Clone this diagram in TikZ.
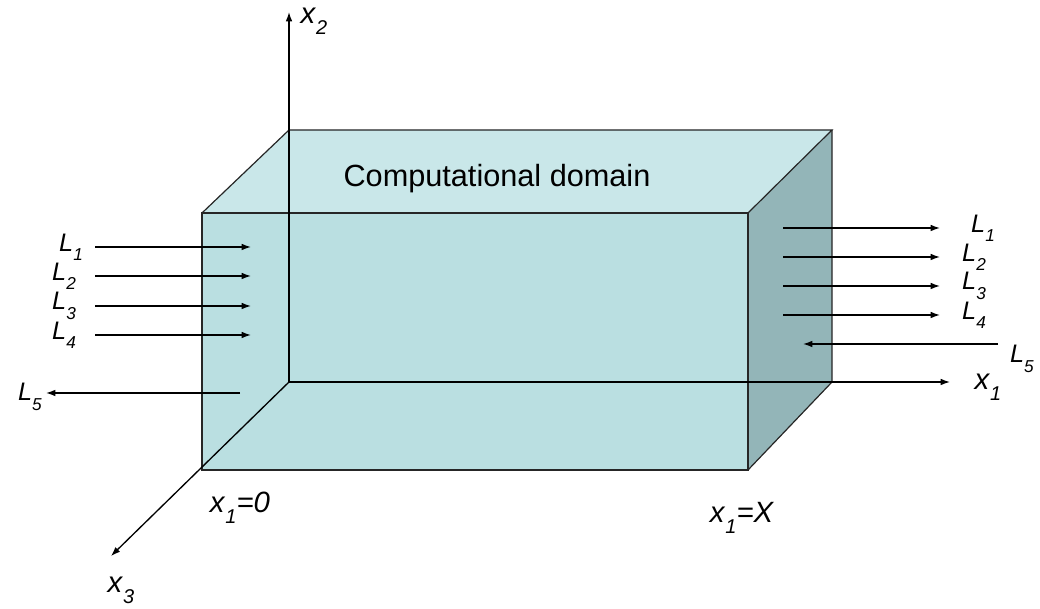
\documentclass[tikz,border=0pt]{standalone}
\usepackage{fontspec}
\setmainfont{Liberation Sans}
\usetikzlibrary{arrows.meta}
\definecolor{frontcol}{HTML}{BADFE1}
\definecolor{topcol}{HTML}{C9E7E9}
\definecolor{sidecol}{HTML}{93B5B8}
\newcommand{\idx}[2]{\textit{#1}\raisebox{-.7ex}{\scalebox{0.68}{\textit{#2}}}}

\begin{document}
\begin{tikzpicture}[x=0.75pt,y=-0.75pt,
  edge/.style={draw=black!85, line width=0.9pt},
  axis/.style={-{Latex[length=7pt,width=5pt]}, line width=1pt},
  lab/.style={inner sep=0pt, font=\fontsize{19}{19}\selectfont},
  xlab/.style={inner sep=0pt, font=\fontsize{22}{22}\selectfont}]
\useasboundingbox (0,0) rectangle (1040,609);
% box corners
\coordinate (f1) at (202,213);
\coordinate (f2) at (748,213);
\coordinate (f3) at (748,470);
\coordinate (f4) at (202,470);
\coordinate (b1) at (289,130);
\coordinate (b2) at (832,130);
\coordinate (b3) at (832,382);
\coordinate (o) at (289,382);
% faces
\fill[topcol] (f1) -- (b1) -- (b2) -- (f2) -- cycle;
\fill[sidecol] (f2) -- (b2) -- (b3) -- (f3) -- cycle;
\fill[frontcol] (f1) -- (f2) -- (f3) -- (f4) -- cycle;
\draw[edge] (f1) -- (f2) -- (f3) -- (f4) -- cycle;
\draw[edge] (f1) -- (b1) -- (b2) -- (f2);
\draw[edge] (b2) -- (b3) -- (f3);
% axes
\coordinate (e1) at (950,382);
\coordinate (e2) at (289,12);
\coordinate (e3) at (111,556);
\draw[axis] (o) -- (e1);
\draw[axis] (o) -- (e2);
\draw[axis] (o) -- (e3);
\node[xlab] (x1) at (988,387) {\idx{x}{1}};
\node[xlab] (x2) at (314,21) {\idx{x}{2}};
\node[xlab] (x3) at (121,590) {\idx{x}{3}};
\node[xlab] (xa) at (240,508) {\idx{x}{1}\textit{=0}};
\node[xlab] (xb) at (742,518) {\idx{x}{1}\textit{=X}};
\node[font=\fontsize{23}{23}\selectfont] (dom) at (497,179) {Computational domain};
% inflow side
\foreach \i/\y/\ly in {1/247/71, 2/276/64, 3/306/64, 4/335/64} {
  \coordinate (la\i) at (95,\y);
  \coordinate (lb\i) at (251,\y);
  \draw[axis] (la\i) -- (lb\i);
  \node[lab] (L\i) at (\ly,\y) {\idx{L}{\i}};
}
\coordinate (la5) at (240,393);
\coordinate (lb5) at (46,393);
\draw[axis] (la5) -- (lb5);
\node[lab] (L5) at (30,397) {\idx{L}{5}};
% outflow side
\foreach \i/\y/\lx in {1/228/983, 2/257/974, 3/286/974, 4/315/974} {
  \coordinate (ra\i) at (783,\y);
  \coordinate (rb\i) at (940,\y);
  \draw[axis] (ra\i) -- (rb\i);
  \node[lab] (R\i) at (\lx,\y) {\idx{L}{\i}};
}
\coordinate (ra5) at (998,344);
\coordinate (rb5) at (803,344);
\draw[axis] (ra5) -- (rb5);
\node[lab] (R5) at (1022,359) {\idx{L}{5}};
\end{tikzpicture}
\end{document}
